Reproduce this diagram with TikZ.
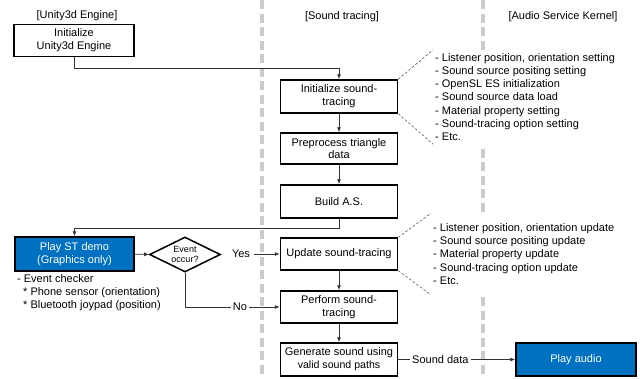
\documentclass[tikz,border=0pt]{standalone}
\usepackage{fontspec}
\setmainfont{Liberation Sans}
\usetikzlibrary{shapes.geometric,arrows.meta}
\definecolor{stblue}{HTML}{0070C0}
\definecolor{lanegray}{HTML}{CBCBCB}
\definecolor{conncol}{HTML}{333333}
\begin{document}
\begin{tikzpicture}[x=1pt,y=-1pt,
 font=\fontsize{11}{12.8}\selectfont,
 stepbox/.style={draw=black, line width=1.5pt, fill=white, minimum width=117pt, minimum height=32pt, align=center, inner sep=1pt},
 bluebox/.style={stepbox, fill=stblue, text=white},
 lane/.style={draw=lanegray, line width=3.5pt, dash pattern=on 9pt off 4.5pt},
 conn/.style={draw=conncol, line width=0.8pt},
 arr/.style={conn, -{Latex[length=5pt,width=4pt]}},
 callout/.style={draw=black!75, line width=0.5pt, dash pattern=on 2.5pt off 2pt},
 listbox/.style={align=left, fill=white, inner xsep=2pt, font=\fontsize{11}{13.3}\selectfont, anchor=west},
 lbl/.style={fill=white, inner sep=2pt}
]
\useasboundingbox (0,0) rectangle (640,378);
\fill[white] (0,0) rectangle (640,378);
% lanes
\draw[lane] (262,0) -- (262,378);
\draw[lane] (483,0) -- (483,378);
% headers
\node (h1) at (77,16) {[Unity3d Engine]};
\node (h2) at (342,17) {[Sound tracing]};
\node (h3) at (563,17) {[Audio Service Kernel]};
% boxes
\node[stepbox, minimum width=120pt, minimum height=32pt] (init) at (74,40.5) {Initialize\\Unity3d Engine};
\node[stepbox, minimum height=33pt] (ist) at (339,96.5) {Initialize sound-\\tracing};
\node[stepbox, minimum height=31pt] (pre) at (339,148.5) {Preprocess triangle\\data};
\node[stepbox, minimum height=33pt] (bas) at (339,201.5) {Build A.S.};
\node[bluebox, minimum width=119pt, minimum height=34pt] (play) at (74.5,254) {Play ST demo\\(Graphics only)};
\node[draw=black, line width=1.5pt, diamond, aspect=2, minimum width=71pt, minimum height=35pt, inner sep=0.5pt, align=center, font=\fontsize{9}{10.5}\selectfont] (dia) at (185,254.5) {Event\\occur?};
\node[stepbox, minimum height=32pt] (upd) at (339,254) {Update sound-tracing};
\node[stepbox, minimum height=32pt] (perf) at (339,307) {Perform sound-\\tracing};
\node[stepbox, minimum height=33pt] (gen) at (339,359.5) {Generate sound using\\{\fontsize{10.6}{11.5}\selectfont valid sound paths}};
\node[bluebox, minimum width=120pt, minimum height=33pt] (audio) at (576,359.5) {Play audio};
% lists
\node[listbox, inner ysep=3pt] (l1) at (433,97) {- Listener position, orientation setting\\- Sound source positing setting\\- OpenSL ES initialization\\- Sound source data load\\- Material property setting\\- Sound-tracing option setting\\- Etc.};
\node[listbox, inner ysep=10pt] (l2) at (431,254) {- Listener position, orientation update\\- Sound source positing update\\- Material property update\\- Sound-tracing option update\\- Etc.};
\node[align=left, anchor=west, inner sep=0pt, font=\fontsize{11}{13}\selectfont] (ev) at (17,293) {- Event checker\\\hspace*{6pt}* Phone sensor (orientation)\\\hspace*{6pt}* Bluetooth joypad (position)};
% callouts
\draw[callout] (ist.north east) -- (l1.north west);
\draw[callout] (ist.south east) -- (l1.south west);
\draw[callout] (upd.north east) -- (l2.north west);
\draw[callout] (upd.south east) -- (l2.south west);
% connectors
\coordinate (j1) at (0,68);
\coordinate (j2) at (0,228);
\draw[arr] (init.south) |- (ist.north |- j1) -- (ist.north);
\draw[arr] (ist) -- (pre);
\draw[arr] (pre) -- (bas);
\draw[arr] (bas.south) |- (play.north |- j2) -- (play.north);
\draw[arr] (play) -- (dia);
\node (yes) at (241,254) {Yes};
\draw[arr] (yes) -- (upd);
\draw[arr] (dia.south) |- node[lbl, pos=0.79] (no) {No} (perf.west);
\draw[arr] (upd) -- (perf);
\draw[arr] (perf) -- (gen);
\draw[arr] (gen) -- node[lbl, pos=0.36] (sd) {Sound data} (audio);
\end{tikzpicture}
\end{document}
